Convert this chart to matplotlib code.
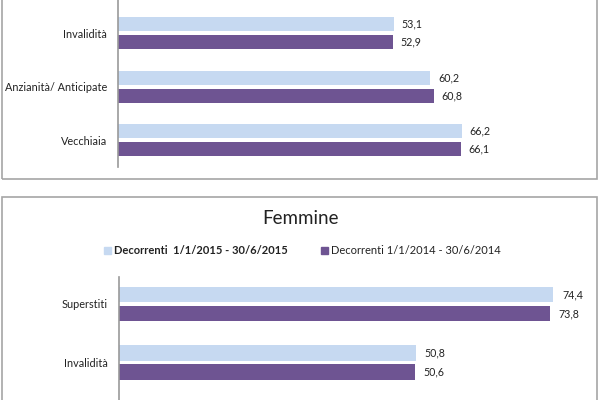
import matplotlib
matplotlib.use("Agg")
import matplotlib.pyplot as plt
from matplotlib.patches import Rectangle
import numpy as np

plt.rcParams['font.family'] = ['Lato', 'DejaVu Sans']

# Top panel (cut off) - categories top to bottom
top_cats = ["Invalidità", "Anzianità/ Anticipate", "Vecchiaia"]
top_2015 = [53.1, 60.2, 66.2]
top_2014 = [52.9, 60.8, 66.1]

# Bottom panel "Femmine"
bot_title = "Femmine"
bot_cats = ["Superstiti", "Invalidità"]
bot_2015 = [74.4, 50.8]
bot_2014 = [73.8, 50.6]

series_labels = ["Decorrenti  1/1/2015 - 30/6/2015", "Decorrenti 1/1/2014 - 30/6/2014"]
c_light = "#c6d9f1"
c_dark = "#6e5492"

W, H = 600, 400
fig = plt.figure(figsize=(6, 4), dpi=100)

def px_axes(x0, y0, x1, y1):
    # pixel coords, y from top
    return fig.add_axes([x0 / W, 1 - y1 / H, (x1 - x0) / W, (y1 - y0) / H])

def fmt(v):
    return f"{v:.1f}".replace(".", ",")

# outer boxes
fig.patches.append(Rectangle((2 / W, 1 - 179 / H), 595 / W, 200 / H, transform=fig.transFigure,
                             fill=False, edgecolor="#a6a6a6", lw=1.2))
fig.patches.append(Rectangle((2 / W, -10 / H), 595 / W, (1 - 197 / H) + 10 / H, transform=fig.transFigure,
                             fill=False, edgecolor="#a6a6a6", lw=1.2))

def panel(ax, cats, v15, v14, off, bh, ylim, xmax):
    y = np.arange(len(cats))
    ax.barh(y - off, v15, height=bh, color=c_light)
    ax.barh(y + off, v14, height=bh, color=c_dark)
    for yi, a, b in zip(y, v15, v14):
        ax.text(a + 1.5, yi - off, fmt(a), va="center", ha="left", fontsize=7.7, color="#222222")
        ax.text(b + 1.5, yi + off, fmt(b), va="center", ha="left", fontsize=7.7, color="#222222")
    ax.set_yticks(y)
    ax.set_yticklabels(cats, fontsize=7.8, color="#222222")
    ax.tick_params(axis="y", length=0, pad=8)
    ax.set_xticks([])
    ax.set_xlim(0, xmax)
    ax.set_ylim(*ylim)
    for s in ["top", "right", "bottom"]:
        ax.spines[s].set_visible(False)
    ax.spines["left"].set_color("#999999")
    ax.spines["left"].set_linewidth(1.2)
    ax.patch.set_alpha(0)

# top axes: pixel x 118..578, y 0..167
ax1 = px_axes(118, 0, 578, 167)
panel(ax1, top_cats, top_2015, top_2014, 0.168, 0.26, (2.5, -0.62), 460 / 5.19)

# bottom axes
ax2 = px_axes(119, 277, 578, 400)
panel(ax2, bot_cats, bot_2015, bot_2014, 0.162, 0.265, (1.64, -0.46), 459 / 5.84)

fig.text(300 / W, 1 - 218 / H, bot_title, ha="center", va="center", fontsize=13.5, color="#222222")

# legend
ly = 1 - 251 / H
fig.patches.append(Rectangle((104 / W, ly - 3.5 / H), 7 / W, 7 / H, transform=fig.transFigure, color=c_light))
fig.text(114 / W, ly, series_labels[0], ha="left", va="center", fontsize=8, fontweight="bold", color="#222222")
fig.patches.append(Rectangle((321 / W, ly - 3.5 / H), 7 / W, 7 / H, transform=fig.transFigure, color=c_dark))
fig.text(331 / W, ly, series_labels[1], ha="left", va="center", fontsize=8, color="#222222")

fig.savefig("out.png", dpi=100)
